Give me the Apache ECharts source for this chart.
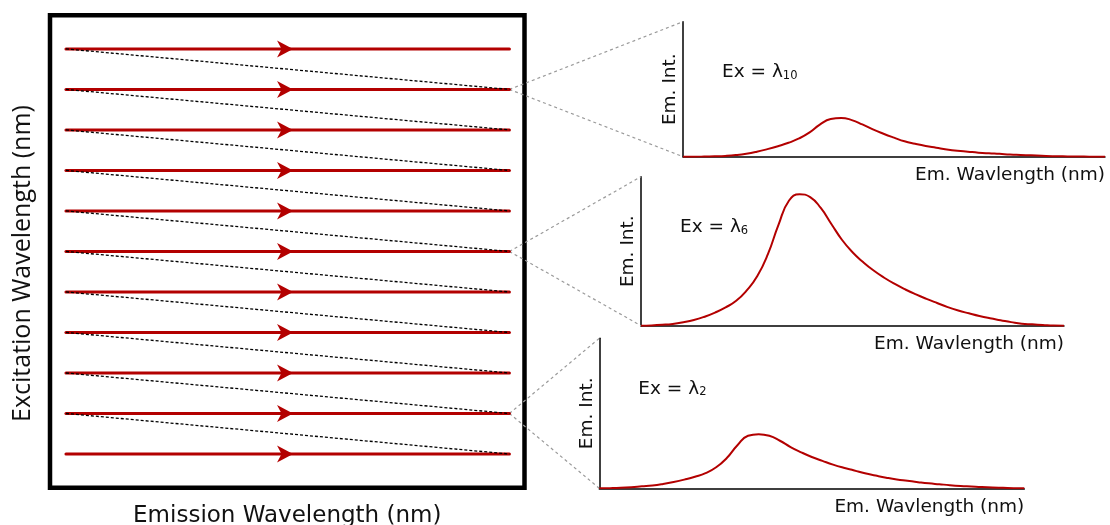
<!DOCTYPE html>
<html><head><meta charset="utf-8">
<script src="https://cdn.jsdelivr.net/npm/echarts@6/dist/echarts.min.js"></script>
<style>html,body{margin:0;padding:0;background:#fff}#c{width:1110px;height:525px}</style>
</head><body><div id="c"></div>
<script>
// ---------- data ----------
const excitationRows = [1, 2, 3, 4, 5, 6, 7, 8, 9, 10, 11];      // λ1 (bottom) … λ11 (top)
const emissionRange = [0, 100];                                    // scan start / end (relative emission wavelength)
const emWavelength = [0, 2.5, 5, 7.5, 10, 12.5, 15, 17.5, 20, 22.5, 25, 27.5, 30, 32.5, 35, 37.5, 40, 42.5, 45, 47.5,
  50, 52.5, 55, 57.5, 60, 62.5, 65, 67.5, 70, 72.5, 75, 77.5, 80, 82.5, 85, 87.5, 90, 92.5, 95, 97.5, 100];
const intensityEx10 = [0, 0, 0.001, 0.003, 0.006, 0.012, 0.022, 0.037, 0.056, 0.078, 0.103, 0.135, 0.18, 0.24, 0.279, 0.287, 0.271, 0.239, 0.202, 0.17,
  0.141, 0.114, 0.096, 0.08, 0.067, 0.054, 0.044, 0.037, 0.03, 0.025, 0.021, 0.016, 0.013, 0.01, 0.007, 0.004, 0.003, 0.001, 0.001, 0, 0];
const intensityEx6 = [0, 0.002, 0.006, 0.012, 0.023, 0.038, 0.06, 0.088, 0.123, 0.167, 0.237, 0.333, 0.48, 0.677, 0.84, 0.882, 0.863, 0.79, 0.683, 0.577,
  0.493, 0.427, 0.37, 0.322, 0.28, 0.243, 0.21, 0.18, 0.152, 0.125, 0.102, 0.083, 0.065, 0.05, 0.037, 0.024, 0.013, 0.009, 0.005, 0.001, 0];
const intensityEx2 = [0, 0.001, 0.003, 0.007, 0.013, 0.019, 0.029, 0.042, 0.058, 0.077, 0.101, 0.14, 0.202, 0.287, 0.35, 0.361, 0.35, 0.317, 0.275, 0.24,
  0.209, 0.183, 0.158, 0.137, 0.119, 0.1, 0.085, 0.071, 0.059, 0.05, 0.041, 0.033, 0.027, 0.021, 0.016, 0.012, 0.008, 0.005, 0.003, 0.001, 0];
const panelExcitation = [10, 6, 2];
const panelIntensity = [intensityEx10, intensityEx6, intensityEx2];
const mapXLabel = 'Emission Wavelength (nm)';
const mapYLabel = 'Excitation Wavelength (nm)';
const panelXLabel = 'Em. Wavlength (nm)';
const panelYLabel = 'Em. Int.';

// ---------- styling / layout ----------
const RED = '#b30000';
const TXT = '#111';
const PF = 'DejaVu Sans';
const ARROW_AT = 49.4;
const panelLayout = [
  { left: 683, top: 21.7, width: 422, height: 135 },
  { left: 641, top: 176.7, width: 423, height: 149 },
  { left: 599.3, top: 338.3, width: 425, height: 150 }
];

const chart = echarts.init(document.getElementById('c'), null, { renderer: 'canvas' });

const grids = [{ left: 50, top: 15.3, width: 474.5, height: 472.4, show: true, borderColor: '#000', borderWidth: 4.5, backgroundColor: 'transparent', outerBoundsMode: 'none', containLabel: false }]
  .concat(panelLayout.map(p => ({ left: p.left, top: p.top, width: p.width, height: p.height, outerBoundsMode: 'none', containLabel: false })));

const hidden = { axisLine: { show: false }, axisTick: { show: false }, axisLabel: { show: false }, splitLine: { show: false } };
const panelAxisLine = { show: true, onZero: false, lineStyle: { color: '#000', width: 1.5 } };

const xAxes = [Object.assign({
  type: 'value', gridIndex: 0, min: -3.6, max: 103.4,
  name: mapXLabel, nameLocation: 'middle', nameGap: 16.5,
  nameTextStyle: { fontFamily: PF, fontSize: 23, color: TXT }
}, hidden)].concat(panelLayout.map((p, i) => Object.assign({}, hidden, {
  type: 'value', gridIndex: i + 1, min: emissionRange[0], max: emissionRange[1],
  axisLine: panelAxisLine,
  name: panelXLabel, nameLocation: 'end', nameGap: 0,
  nameTextStyle: { fontFamily: PF, fontSize: 18.5, color: TXT, align: 'right', verticalAlign: 'top', padding: [9, 0, 0, 0] }
})));

const yAxes = [Object.assign({
  type: 'value', gridIndex: 0, min: 0.168, max: 11.83,
  name: mapYLabel, nameLocation: 'middle', nameRotate: 90, nameGap: 15,
  nameTextStyle: { fontFamily: 'Open Sans', fontSize: 25, color: TXT, padding: [0, 24, 0, 0] }
}, hidden)].concat(panelLayout.map((p, i) => Object.assign({}, hidden, {
  type: 'value', gridIndex: i + 1, min: 0, max: 1,
  axisLine: panelAxisLine,
  name: panelYLabel, nameLocation: 'middle', nameRotate: 90, nameGap: 3,
  nameTextStyle: { fontFamily: PF, fontSize: 18.5, color: TXT }
})));

const series = [];
// horizontal scan lines
excitationRows.forEach(k => {
  series.push({
    type: 'line', xAxisIndex: 0, yAxisIndex: 0, silent: true, symbol: 'none', z: 2,
    data: [[emissionRange[0], k], [emissionRange[1], k]],
    lineStyle: { color: RED, width: 3, cap: 'round' }
  });
});
// diagonal returns (dashed)
excitationRows.slice(1).forEach(k => {
  series.push({
    type: 'line', xAxisIndex: 0, yAxisIndex: 0, silent: true, symbol: 'none', z: 4,
    data: [[emissionRange[0], k], [emissionRange[1], k - 1]],
    lineStyle: { color: '#000', width: 1.3, type: [3, 2] }
  });
});
// arrowheads
series.push({
  type: 'scatter', xAxisIndex: 0, yAxisIndex: 0, silent: true, z: 5,
  symbol: 'path://M0,0L16,8.5L0,17L4.5,8.5Z', symbolSize: [16, 17],
  itemStyle: { color: RED, opacity: 1 },
  data: excitationRows.map(k => [ARROW_AT, k])
});
// emission spectra
panelIntensity.forEach((arr, i) => {
  series.push({
    type: 'line', xAxisIndex: i + 1, yAxisIndex: i + 1, silent: true, symbol: 'none', smooth: 0.5, z: 3,
    data: emWavelength.map((x, j) => [x, arr[j]]),
    lineStyle: { color: RED, width: 2 }
  });
});

const titles = panelLayout.map((p, i) => ({
  text: '{a|Ex = λ}{s|' + panelExcitation[i] + '}',
  left: p.left + 39, top: p.top + 38, padding: 0,
  textStyle: {
    fontWeight: 'normal',
    rich: {
      a: { fontFamily: PF, fontSize: 18.5, fontWeight: 'normal', lineHeight: 22, color: TXT, verticalAlign: 'bottom' },
      s: { fontFamily: PF, fontSize: 11.5, fontWeight: 'normal', lineHeight: 12, color: TXT, verticalAlign: 'bottom' }
    }
  }
}));

chart.setOption({
  animation: false,
  backgroundColor: '#fff',
  title: titles,
  grid: grids,
  xAxis: xAxes,
  yAxis: yAxes,
  series: series
});

// zoom connectors from the scan lines to each spectrum panel
const graphics = [];
panelExcitation.forEach((k, i) => {
  const s = chart.convertToPixel({ xAxisIndex: 0, yAxisIndex: 0 }, [emissionRange[1], k]);
  const t = chart.convertToPixel({ xAxisIndex: i + 1, yAxisIndex: i + 1 }, [emissionRange[0], 1]);
  const b = chart.convertToPixel({ xAxisIndex: i + 1, yAxisIndex: i + 1 }, [emissionRange[0], 0]);
  [t, b].forEach(e => graphics.push({
    type: 'line', silent: true, z: 1,
    shape: { x1: s[0], y1: s[1], x2: e[0], y2: e[1] },
    style: { stroke: '#9a9a9a', lineWidth: 1.2, lineDash: [3, 3] }
  }));
});
chart.setOption({ graphic: graphics });
</script></body></html>
